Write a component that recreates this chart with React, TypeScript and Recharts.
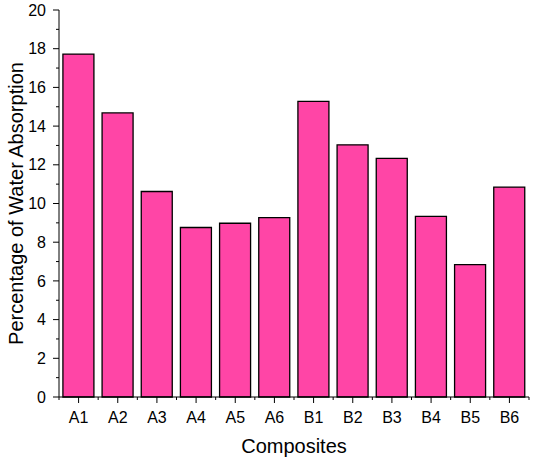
import React from 'react';
import { BarChart, Bar, XAxis, YAxis } from 'recharts';

const categories = ['A1', 'A2', 'A3', 'A4', 'A5', 'A6', 'B1', 'B2', 'B3', 'B4', 'B5', 'B6'];
const absorption = [17.72, 14.68, 10.62, 8.76, 8.98, 9.27, 15.28, 13.03, 12.33, 9.33, 6.84, 10.85];
const yTicks = [0, 1, 2, 3, 4, 5, 6, 7, 8, 9, 10, 11, 12, 13, 14, 15, 16, 17, 18, 19, 20];

const data = categories.map((c, i) => ({ name: c, value: absorption[i] }));

const W = 534;
const H = 459;
const M = { top: 10, right: 5, left: 0, bottom: 0 };
const YW = 59;
const XH = 62;
const PLOT_W = W - M.left - M.right - YW;
const BAND = PLOT_W / categories.length;
const FONT = 'Arial, "Liberation Sans", sans-serif';

const YTick = (props: any) => {
  const { x, y, payload } = props;
  const ax = x + 13;
  const major = payload.value % 2 === 0;
  return (
    <g>
      <line x1={ax - (major ? 6 : 3)} x2={ax} y1={y} y2={y} stroke="#000" strokeWidth={1} />
      {major && (
        <text x={x} y={y} dy="0.355em" textAnchor="end" fontSize={16} fontFamily={FONT} fill="#000">
          {payload.value}
        </text>
      )}
    </g>
  );
};

const XTick = (props: any) => {
  const { x, y, payload, index } = props;
  const ay = y - 6;
  const half = BAND / 2;
  return (
    <g>
      <line x1={x} x2={x} y1={ay} y2={ay + 6} stroke="#000" strokeWidth={1} />
      <line x1={x - half} x2={x - half} y1={ay} y2={ay + 3} stroke="#000" strokeWidth={1} />
      {index === categories.length - 1 && (
        <line x1={x + half} x2={x + half} y1={ay} y2={ay + 3} stroke="#000" strokeWidth={1} />
      )}
      <text x={x} y={ay + 25.5} textAnchor="middle" fontSize={16} fontFamily={FONT} fill="#000">
        {payload.value}
      </text>
    </g>
  );
};

const YLabel = (props: any) => {
  const vb = props.viewBox || { x: 0, y: M.top, width: YW, height: 387 };
  const cx = vb.x + 16;
  const cy = vb.y + vb.height / 2;
  return (
    <text
      x={cx}
      y={cy}
      dy="0.355em"
      transform={`rotate(-90 ${cx} ${cy})`}
      textAnchor="middle"
      fontSize={20}
      fontFamily={FONT}
      fill="#000"
    >
      Percentage of Water Absorption
    </text>
  );
};

const XLabel = (props: any) => {
  const vb = props.viewBox || { x: YW, y: 397, width: PLOT_W, height: XH };
  const cx = vb.x + vb.width / 2;
  return (
    <text x={cx} y={vb.y + 55.5} textAnchor="middle" fontSize={20} fontFamily={FONT} fill="#000">
      Composites
    </text>
  );
};

export default function App() {
  return (
    <div style={{ position: 'absolute', left: 0, top: 0, width: W, height: H, background: '#fff' }}>
      <BarChart width={W} height={H} data={data} margin={M} barCategoryGap="10%">
        <XAxis
          dataKey="name"
          height={XH}
          tickLine={false}
          tickSize={6}
          tickMargin={0}
          axisLine={{ stroke: '#000', strokeWidth: 1 }}
          tick={<XTick />}
          interval={0}
          label={<XLabel />}
        />
        <YAxis
          width={YW}
          domain={[0, 20]}
          ticks={yTicks}
          interval={0}
          tickLine={false}
          tickSize={6}
          tickMargin={7}
          axisLine={{ stroke: '#000', strokeWidth: 1 }}
          tick={<YTick />}
          label={<YLabel />}
        />
        <Bar dataKey="value" fill="#ff45a6" stroke="#000" strokeWidth={1.3} isAnimationActive={false} />
      </BarChart>
    </div>
  );
}
